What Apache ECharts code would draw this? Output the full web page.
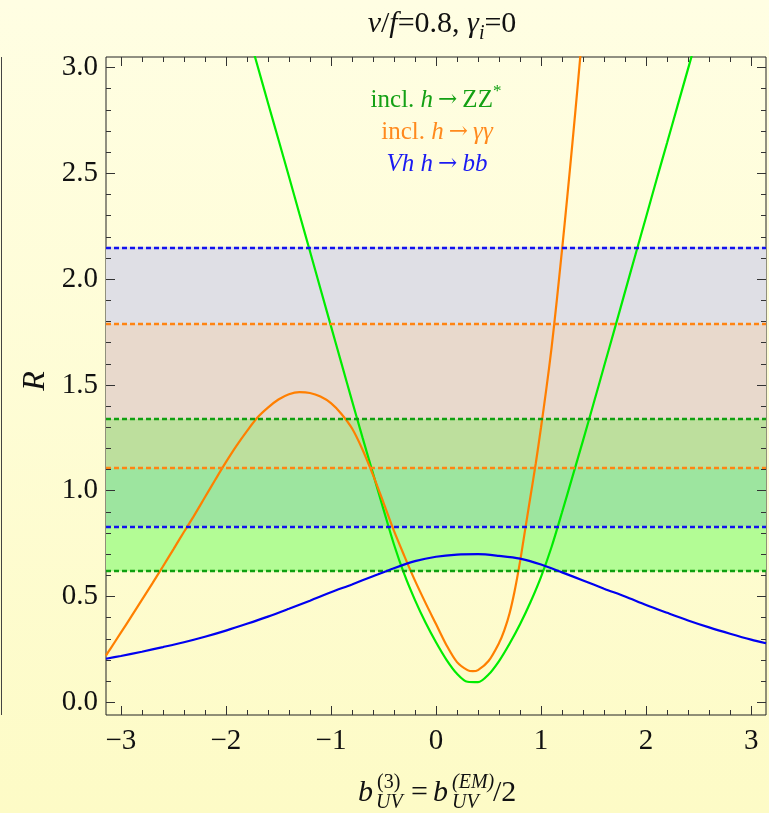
<!DOCTYPE html>
<html>
<head>
<meta charset="utf-8">
<script src="https://cdn.jsdelivr.net/npm/echarts@6.0.0/dist/echarts.min.js"></script>
<style>
html, body { margin: 0; padding: 0; }
#main { width: 769px; height: 813px; }
</style>
</head>
<body>
<div id="main"></div>
<script>
// tick labels
var xMajorTicks = [-3, -2, -1, 0, 1, 2, 3];
var yMajorTicks = [0, 0.5, 1, 1.5, 2, 2.5, 3];
var xMinorStep = 0.2;
var yMinorStep = 0.1;

// incl. h -> ZZ* (green)
var greenX = [-1.9, -1.8, -1.7, -1.6, -1.5, -1.4, -1.3, -1.2, -1.1, -1.0, -0.9, -0.8, -0.7, -0.6, -0.5, -0.4,
              -0.3, -0.2, -0.1, 0.0, 0.1, 0.2, 0.3, 0.4, 0.5, 0.6, 0.7, 0.8, 0.9, 1.0, 1.1, 1.2, 1.3, 1.4,
              1.5, 1.6, 1.7, 1.8, 1.9, 2.0, 2.1, 2.2, 2.3, 2.4, 2.5, 2.6];
var greenR = [3.36, 3.184, 3.01, 2.834, 2.66, 2.485, 2.308, 2.132, 1.955, 1.778, 1.602, 1.426, 1.252, 1.082, 0.912, 0.746,
              0.603, 0.483, 0.377, 0.284, 0.201, 0.135, 0.097, 0.095, 0.131, 0.195, 0.277, 0.369, 0.474, 0.593, 0.734, 0.898, 1.068, 1.238,
              1.412, 1.588, 1.764, 1.941, 2.118, 2.294, 2.471, 2.645, 2.82, 2.995, 3.17, 3.345];

// incl. h -> gamma gamma (orange)
var orangeX = [-3.142, -3.1, -3.0, -2.9, -2.8, -2.7, -2.6, -2.5, -2.4, -2.3, -2.2, -2.1, -2.0, -1.9, -1.8, -1.7,
               -1.6, -1.5, -1.4, -1.3, -1.2, -1.1, -1.0, -0.9, -0.8, -0.7, -0.6, -0.5, -0.4, -0.3, -0.2, -0.1,
               0.0, 0.1, 0.2, 0.3, 0.35, 0.4, 0.5, 0.6, 0.65, 0.7, 0.75, 0.8, 0.85, 0.9, 0.95, 1.0, 1.05, 1.1,
               1.15, 1.2, 1.25, 1.3, 1.35, 1.4, 1.45];
var orangeR = [0.221, 0.253, 0.329, 0.406, 0.484, 0.562, 0.642, 0.723, 0.805, 0.885, 0.969, 1.053, 1.135, 1.212, 1.282, 1.346,
               1.393, 1.431, 1.456, 1.466, 1.462, 1.445, 1.414, 1.363, 1.295, 1.195, 1.075, 0.944, 0.81, 0.69, 0.575, 0.47,
               0.37, 0.27, 0.19, 0.152, 0.147, 0.152, 0.195, 0.28, 0.34, 0.42, 0.53, 0.665, 0.82, 0.975, 1.13, 1.3, 1.48, 1.675,
               1.9, 2.14, 2.39, 2.65, 2.92, 3.2, 3.48];

// Vh h -> bb (blue)
var blueX = [-3.142, -3.0, -2.8, -2.6, -2.4, -2.2, -2.0, -1.8, -1.6, -1.4, -1.2, -1.0, -0.8, -0.6, -0.4, -0.2,
             0.0, 0.2, 0.4, 0.6, 0.8, 1.0, 1.2, 1.4, 1.6, 1.8, 2.0, 2.2, 2.4, 2.6, 2.8, 3.0, 3.142];
var blueR = [0.206, 0.219, 0.239, 0.261, 0.284, 0.310, 0.339, 0.371, 0.405, 0.442, 0.480, 0.520, 0.557, 0.596, 0.634, 0.667,
             0.688, 0.698, 0.700, 0.692, 0.679, 0.651, 0.614, 0.576, 0.537, 0.500, 0.460, 0.423, 0.387, 0.354, 0.324, 0.296, 0.279];

// measured bands
var blueBand = [0.833, 2.153];
var orangeBand = [1.107, 1.789];
var greenBand = [0.62, 1.339];

// fill colour of each overlap slice, bottom to top
var sliceColors = ['#b3fc95', '#9de59f', '#bddf9d', '#e8d9cc', '#dfdfe5'];

var serif = 'Liberation Serif';
var xMin = -Math.PI, xMax = Math.PI, yMin = -0.06, yMax = 3.05;
var gridBox = { left: 106, right: 3, top: 57, bottom: 98 };
var plotW = 769 - gridBox.left - gridBox.right;
var plotH = 813 - gridBox.top - gridBox.bottom;

function steps(a, b, s) {
    var out = [];
    for (var v = a; v <= b + 1e-9; v += s) out.push(Math.round(v * 10) / 10);
    return out;
}
var xMinorTicks = steps(-3, 3, xMinorStep);
var yMinorTicks = steps(0, 3, yMinorStep);

function pairs(xs, ys) {
    return xs.map(function (x, i) { return [x, ys[i]]; });
}

// cut the three bands into non overlapping slices
var edges = blueBand.concat(orangeBand, greenBand).sort(function (a, b) { return a - b; });
var slices = [];
for (var i = 0; i < edges.length - 1; i++) {
    slices.push([{ yAxis: edges[i], itemStyle: { color: sliceColors[i] } }, { yAxis: edges[i + 1] }]);
}

function dashLine(v, color) {
    return { yAxis: v, lineStyle: { color: color, width: 2.4, type: [5, 3] } };
}

// frame ticks as short segments in data units, inside the frame on all four sides
var tickSegs = [];
xMinorTicks.forEach(function (v) {
    var dy = (xMajorTicks.indexOf(v) >= 0 ? 9 : 5) * (yMax - yMin) / plotH;
    tickSegs.push([{ coord: [v, yMin] }, { coord: [v, yMin + dy] }]);
    tickSegs.push([{ coord: [v, yMax] }, { coord: [v, yMax - dy] }]);
});
yMinorTicks.forEach(function (v) {
    var dx = (yMajorTicks.indexOf(v) >= 0 ? 9 : 5) * (xMax - xMin) / plotW;
    tickSegs.push([{ coord: [xMin, v] }, { coord: [xMin + dx, v] }]);
    tickSegs.push([{ coord: [xMax, v] }, { coord: [xMax - dx, v] }]);
});

function txt(x, y, text, size, italic) {
    return {
        type: 'text', x: x, y: y,
        style: { text: text, fontFamily: serif, fontSize: size, fontStyle: italic ? 'italic' : 'normal', fill: '#111', verticalAlign: 'middle' }
    };
}

var chart = echarts.init(document.getElementById('main'));

chart.setOption({
    animation: false,
    backgroundColor: new echarts.graphic.LinearGradient(0, 0, 0, 1, [
        { offset: 0, color: '#fffee3' },
        { offset: 1, color: '#fdfbc6' }
    ]),
    grid: {
        left: gridBox.left, right: gridBox.right, top: gridBox.top, bottom: gridBox.bottom,
        show: true, borderColor: '#222', borderWidth: 1, backgroundColor: 'transparent'
    },
    xAxis: {
        type: 'value', min: xMin, max: xMax,
        axisLine: { show: false, onZero: false },
        splitLine: { show: false },
        axisTick: { show: false },
        axisLabel: {
            customValues: xMajorTicks, margin: 12,
            fontFamily: serif, fontSize: 29, color: '#111',
            formatter: function (v) { return String(v).replace('-', '\u2212'); }
        }
    },
    yAxis: {
        type: 'value', min: yMin, max: yMax,
        axisLine: { show: false, onZero: false },
        splitLine: { show: false },
        axisTick: { show: false },
        axisLabel: {
            customValues: yMajorTicks, margin: 8,
            fontFamily: serif, fontSize: 29, color: '#111',
            formatter: function (v) { return v.toFixed(1); }
        }
    },
    series: [
        {
            name: 'bands', type: 'line', data: [], z: 1, silent: true,
            markArea: { silent: true, data: slices },
            markLine: {
                silent: true, symbol: ['none', 'none'], label: { show: false },
                lineStyle: { width: 2.4, type: [5, 3] },
                data: [
                    dashLine(blueBand[1], '#1212ee'),
                    dashLine(orangeBand[1], '#ff8412'),
                    dashLine(greenBand[1], '#10a010'),
                    dashLine(orangeBand[0], '#ff8412'),
                    dashLine(blueBand[0], '#1212ee'),
                    dashLine(greenBand[0], '#10a010')
                ]
            }
        },
        {
            name: 'frame ticks', type: 'line', data: [], z: 6, silent: true,
            markLine: {
                silent: true, symbol: ['none', 'none'], label: { show: false },
                lineStyle: { color: '#333', width: 1, type: 'solid' },
                data: tickSegs
            }
        },
        {
            name: 'incl. h → ZZ*', type: 'line', data: pairs(greenX, greenR), z: 3,
            smooth: 0.3, showSymbol: false, lineStyle: { color: '#00ec00', width: 2.2 }
        },
        {
            name: 'incl. h → γγ', type: 'line', data: pairs(orangeX, orangeR), z: 4,
            smooth: 0.3, showSymbol: false, lineStyle: { color: '#ff7f00', width: 2.2 }
        },
        {
            name: 'Vh h → bb', type: 'line', data: pairs(blueX, blueR), z: 5,
            smooth: 0.3, showSymbol: false, lineStyle: { color: '#0000f0', width: 2.2 }
        }
    ],
    graphic: [
        // leftover frame edge of the neighbouring panel
        { type: 'line', shape: { x1: 1.5, y1: 57, x2: 1.5, y2: 715 }, style: { stroke: '#444', lineWidth: 1 } },
        // title
        {
            type: 'text', x: 442, y: 24,
            style: {
                text: '{i|v}{n|/}{i|f}{n|=0.8, }{i|γ}{s|i}{n|=0}',
                align: 'center', verticalAlign: 'middle', fill: '#111',
                rich: {
                    n: { fontFamily: serif, fontSize: 30, lineHeight: 40, verticalAlign: 'middle' },
                    i: { fontFamily: serif, fontSize: 30, fontStyle: 'italic', lineHeight: 40, verticalAlign: 'middle' },
                    s: { fontFamily: serif, fontSize: 20, fontStyle: 'italic', lineHeight: 20, verticalAlign: 'bottom' }
                }
            }
        },
        // legend lines
        {
            type: 'text', x: 436, y: 100,
            style: {
                text: '{n|incl. }{i|h}{a|→}{n|ZZ}{p|*}', align: 'center', verticalAlign: 'middle', fill: '#14a014',
                rich: {
                    n: { fontFamily: serif, fontSize: 25, lineHeight: 34, verticalAlign: 'middle' },
                    i: { fontFamily: serif, fontSize: 25, fontStyle: 'italic', lineHeight: 34, verticalAlign: 'middle' },
                    a: { fontFamily: 'DejaVu Serif', fontSize: 23, lineHeight: 34, verticalAlign: 'middle', padding: [0, 5, 0, 5] },
                    p: { fontFamily: serif, fontSize: 17, lineHeight: 17, verticalAlign: 'top' }
                }
            }
        },
        {
            type: 'text', x: 437, y: 132,
            style: {
                text: '{n|incl. }{i|h}{a|→}{i|γγ}', align: 'center', verticalAlign: 'middle', fill: '#ff8a1e',
                rich: {
                    n: { fontFamily: serif, fontSize: 25 },
                    i: { fontFamily: serif, fontSize: 25, fontStyle: 'italic' },
                    a: { fontFamily: 'DejaVu Serif', fontSize: 23, padding: [0, 5, 0, 5] }
                }
            }
        },
        {
            type: 'text', x: 437, y: 164,
            style: {
                text: '{i|Vh h}{a|→}{i|bb}', align: 'center', verticalAlign: 'middle', fill: '#1a1af2',
                rich: {
                    i: { fontFamily: serif, fontSize: 25, fontStyle: 'italic' },
                    a: { fontFamily: 'DejaVu Serif', fontSize: 23, padding: [0, 5, 0, 5] }
                }
            }
        },
        // y axis name
        {
            type: 'text', x: 36, y: 381, rotation: Math.PI / 2,
            style: { text: 'R', fontFamily: serif, fontSize: 32, fontStyle: 'italic', fill: '#111', align: 'center', verticalAlign: 'middle' }
        },
        // x axis name, b_UV^(3) = b_UV^(EM) / 2
        txt(358, 793, 'b', 30, true),
        txt(377, 783, '(3)', 20, false),
        txt(376, 803, 'UV', 20, true),
        txt(411, 793, '=', 30, false),
        txt(433, 793, 'b', 30, true),
        txt(452, 783, '(EM)', 20, true),
        txt(452, 803, 'UV', 20, true),
        txt(493, 793, '/2', 30, false)
    ]
});
</script>
</body>
</html>
